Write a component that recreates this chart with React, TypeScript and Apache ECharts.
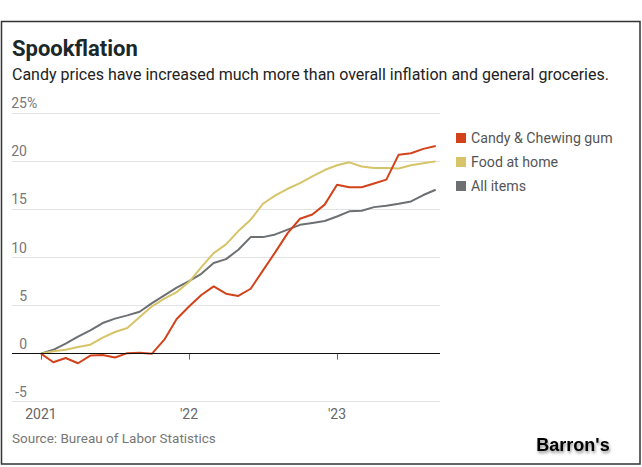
import React, { useEffect, useRef } from 'react';
import * as echarts from 'echarts';

const months = [
  '2021-01', '2021-02', '2021-03', '2021-04', '2021-05', '2021-06', '2021-07', '2021-08', '2021-09', '2021-10', '2021-11', '2021-12',
  '2022-01', '2022-02', '2022-03', '2022-04', '2022-05', '2022-06', '2022-07', '2022-08', '2022-09', '2022-10', '2022-11', '2022-12',
  '2023-01', '2023-02', '2023-03', '2023-04', '2023-05', '2023-06', '2023-07', '2023-08', '2023-09',
];

const candy = [0, -0.9, -0.45, -1.0, -0.2, -0.15, -0.4, 0.05, 0.1, 0.0, 1.45, 3.6, 4.9, 6.1, 7.0, 6.24, 6.0, 6.75, 8.66, 10.56, 12.54, 14.03, 14.48, 15.5, 17.57, 17.3, 17.3, 17.7, 18.1, 20.7, 20.85, 21.3, 21.6];
const foodAtHome = [0, 0.24, 0.41, 0.69, 0.93, 1.66, 2.25, 2.66, 3.8, 4.92, 5.72, 6.4, 7.45, 9.0, 10.46, 11.36, 12.75, 13.93, 15.59, 16.46, 17.15, 17.74, 18.43, 19.1, 19.6, 19.9, 19.47, 19.3, 19.3, 19.26, 19.6, 19.8, 20.0];
const allItems = [0, 0.4, 1.04, 1.77, 2.42, 3.18, 3.64, 3.98, 4.36, 5.26, 6.06, 6.86, 7.55, 8.3, 9.42, 9.83, 10.8, 12.12, 12.12, 12.4, 12.9, 13.4, 13.6, 13.8, 14.27, 14.8, 14.86, 15.24, 15.38, 15.6, 15.83, 16.5, 17.05];

const seriesNames = ['Candy & Chewing gum', 'Food at home', 'All items'];
const xTickMonths = ['2021-01', '2022-01', '2023-01'];
const xTickLabels = ['2021', "'22", "'23"];

const FONT = 'Roboto, "Noto Sans", sans-serif';
const COLORS = { candy: '#d2431b', food: '#d7c468', all: '#6c7073' };

export default function App() {
  const ref = useRef<HTMLDivElement>(null);

  useEffect(() => {
    if (!ref.current) return;
    const chart = echarts.init(ref.current, undefined, { renderer: 'svg' });
    const idx = (m: string) => months.indexOf(m);
    const tickVals = xTickMonths.map(idx);
    const toData = (arr: number[]) => months.map((m, i) => [idx(m), arr[i]]);

    chart.setOption({
      animation: false,
      backgroundColor: '#ffffff',
      textStyle: { fontFamily: FONT },
      title: [
        { text: 'Spookflation', left: 12, top: 37, padding: 0, textStyle: { fontFamily: FONT, fontSize: 22, fontWeight: 'bold', color: '#1a2828' } },
        { text: 'Candy prices have increased much more than overall inflation and general groceries.', left: 12, top: 66.5, padding: 0, textStyle: { fontFamily: FONT, fontSize: 16, fontWeight: 'normal', color: '#222' } },
        { text: 'Source: Bureau of Labor Statistics', left: 12, top: 430.5, padding: 0, textStyle: { fontFamily: FONT, fontSize: 13.5, fontWeight: 'normal', color: '#777' } },
      ],
      legend: {
        orient: 'vertical',
        left: 456,
        top: 131,
        padding: 0,
        itemWidth: 10,
        itemHeight: 10,
        itemGap: 10,
        icon: 'rect',
        data: seriesNames,
        textStyle: { fontFamily: FONT, fontSize: 14.2, color: '#555' },
      },
      grid: { left: 12, right: 202, top: 113.3, bottom: 65.3, containLabel: false },
      xAxis: {
        type: 'value',
        min: -2.35,
        max: 32.35,
        splitLine: { show: false },
        axisLine: { show: false },
        axisTick: { show: true, customValues: tickVals, length: 6, lineStyle: { color: '#666', width: 1 } },
        axisLabel: {
          customValues: tickVals,
          formatter: (v: number) => {
            const k = tickVals.indexOf(v);
            return k >= 0 ? xTickLabels[k] : '';
          },
          fontFamily: FONT,
          fontSize: 14,
          color: '#666',
          margin: 5,
        },
      },
      yAxis: {
        type: 'value',
        min: -5,
        max: 25,
        interval: 5,
        axisLine: { show: false },
        axisTick: { show: false },
        splitLine: { lineStyle: { color: '#e3e3e3', width: 1 } },
        axisLabel: {
          inside: true,
          align: 'right',
          margin: 15,
          verticalAlign: 'bottom',
          padding: [0, 0, 3, 0],
          fontFamily: FONT,
          fontSize: 14,
          color: '#777',
        },
      },
      series: [
        {
          name: seriesNames[2],
          type: 'line',
          data: toData(allItems),
          showSymbol: false,
          symbol: 'none',
          lineStyle: { color: COLORS.all, width: 2 },
          itemStyle: { color: COLORS.all },
          markLine: {
            silent: true,
            symbol: ['none', 'none'],
            label: { show: false },
            lineStyle: { color: '#111', width: 1.2, type: 'solid' },
            data: [{ yAxis: 0 }],
          },
        },
        {
          name: seriesNames[1],
          type: 'line',
          data: toData(foodAtHome),
          showSymbol: false,
          symbol: 'none',
          lineStyle: { color: COLORS.food, width: 2 },
          itemStyle: { color: COLORS.food },
        },
        {
          name: seriesNames[0],
          type: 'line',
          data: toData(candy),
          showSymbol: false,
          symbol: 'none',
          lineStyle: { color: COLORS.candy, width: 2 },
          itemStyle: { color: COLORS.candy },
        },
      ],
      graphic: [
        {
          type: 'rect',
          shape: { x: 1.5, y: 21.5, width: 638.5, height: 442.5 },
          style: { fill: 'none', stroke: '#333', lineWidth: 1.5 },
          silent: true,
        },
        {
          type: 'text',
          x: 27,
          y: 110.3,
          style: { text: '%', fontFamily: FONT, fontSize: 14, fill: '#777', textAlign: 'left', textVerticalAlign: 'bottom' },
          silent: true,
        },
        {
          type: 'text',
          x: 573,
          y: 445,
          style: {
            text: "Barron's",
            fontFamily: '"Liberation Sans", Arial, sans-serif',
            fontWeight: 'bold',
            fontSize: 18,
            fill: '#000',
            textAlign: 'center',
            textVerticalAlign: 'middle',
            textShadowColor: 'rgba(0,0,0,0.45)',
            textShadowBlur: 3,
            textShadowOffsetX: 1,
            textShadowOffsetY: 2,
          },
          silent: true,
        },
      ],
    });

    return () => chart.dispose();
  }, []);

  return (
    <div
      ref={ref}
      style={{ position: 'fixed', left: 0, top: 0, width: 642, height: 467, background: '#fff' }}
    />
  );
}
